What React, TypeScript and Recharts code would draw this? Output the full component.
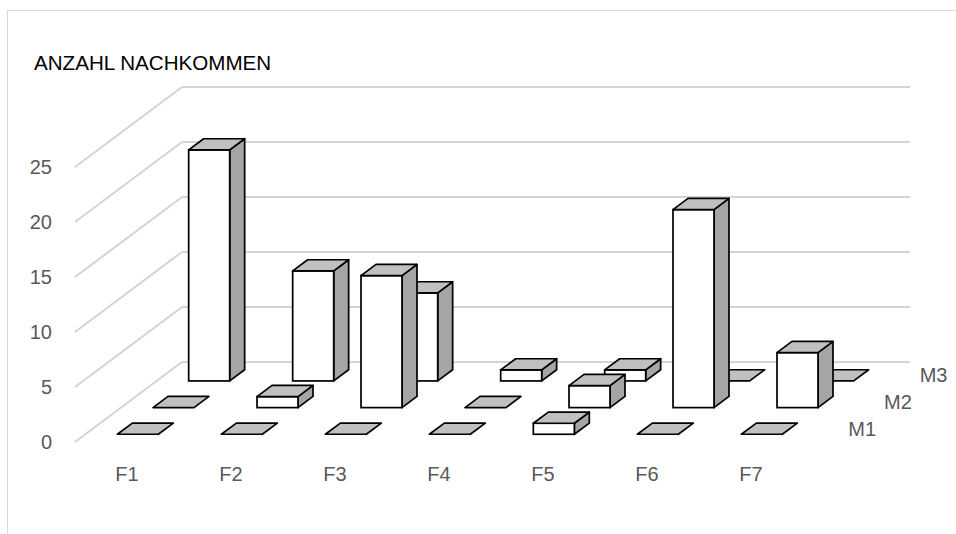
import React from 'react';
import { BarChart, Bar, XAxis, YAxis, CartesianGrid } from 'recharts';

const categories = ['F1', 'F2', 'F3', 'F4', 'F5', 'F6', 'F7'];
const seriesNames = ['M1', 'M2', 'M3'];
const m1Values = [0, 0, 0, 0, 1, 0, 0];
const m2Values = [0, 1, 12, 0, 2, 18, 5];
const m3Values = [21, 10, 8, 1, 1, 0, 0];
const yTicks = [0, 5, 10, 15, 20, 25];
const title = 'ANZAHL NACHKOMMEN';

const data = categories.map((c, i) => ({ name: c, M1: m1Values[i], M2: m2Values[i], M3: m3Values[i] }));

const CHART_W = 956;
const MARGIN_RIGHT = 153;
const Y_AXIS_W = 75;
const BAND = (CHART_W - MARGIN_RIGHT - Y_AXIS_W) / categories.length;
const DEPTH_X = 107;
const DEPTH_Y = -80;
const ROWS = 3;
const BAR_DEPTH = 0.14;
const FONT = '"Liberation Sans", Arial, sans-serif';
const TEXT_GRAY = '#595959';

function makeShape(row: number, name: string) {
  return (props: any) => {
    const { x, y, width, height, index } = props;
    const h = Math.max(0, height || 0);
    const dc = (row + 0.5) / ROWS;
    const df = dc - BAR_DEPTH / 2;
    const fx = x + df * DEPTH_X;
    const base = y + h + df * DEPTH_Y;
    const top = y + df * DEPTH_Y;
    const bx = BAR_DEPTH * DEPTH_X;
    const by = BAR_DEPTH * DEPTH_Y;
    const w = width;
    const topFace = `${fx},${top} ${fx + w},${top} ${fx + w + bx},${top + by} ${fx + bx},${top + by}`;
    const sideFace = `${fx + w},${top} ${fx + w + bx},${top + by} ${fx + w + bx},${base + by} ${fx + w},${base}`;
    let label = null;
    if (index === categories.length - 1) {
      const bandRight = x + w / 2 + BAND / 2;
      const lx = bandRight + 27 + dc * DEPTH_X;
      const ly = y + h + dc * DEPTH_Y;
      label = (
        <text x={lx} y={ly} fontSize={20} fontFamily={FONT} fill={TEXT_GRAY} dominantBaseline="central">
          {name}
        </text>
      );
    }
    return (
      <g>
        {h > 0 && (
          <>
            <polygon points={sideFace} fill="#a5a5a5" stroke="#000" strokeWidth={1.7} strokeLinejoin="round" />
            <rect x={fx} y={top} width={w} height={h} fill="#ffffff" stroke="#000" strokeWidth={1.7} />
          </>
        )}
        <polygon points={topFace} fill="#c0c0c0" stroke="#000" strokeWidth={1.7} strokeLinejoin="round" />
        {label}
      </g>
    );
  };
}

const gridLine = (props: any) => {
  const { x1, y1, x2, key } = props;
  return (
    <g key={key}>
      <line x1={x1} y1={y1} x2={x1 + DEPTH_X} y2={y1 + DEPTH_Y} stroke="#d4d4d4" strokeWidth={2} />
      <line x1={x1 + DEPTH_X} y1={y1 + DEPTH_Y} x2={x2 + DEPTH_X} y2={y1 + DEPTH_Y} stroke="#d4d4d4" strokeWidth={2} />
    </g>
  );
};

export default function App() {
  return (
    <div style={{ position: 'absolute', left: 0, top: 0, width: 956, height: 534, overflow: 'hidden', background: '#fff' }}>
      <div
        style={{
          position: 'absolute',
          left: 7,
          top: 10,
          width: 1000,
          height: 600,
          borderLeft: '1.5px solid #d9d9d9',
          borderTop: '1.5px solid #d9d9d9',
        }}
      />
      <div
        style={{
          position: 'absolute',
          left: 34,
          top: 53,
          fontFamily: FONT,
          fontSize: 20.6,
          lineHeight: '20px',
          color: '#000',
          whiteSpace: 'nowrap',
        }}
      >
        {title}
      </div>
      <div style={{ position: 'absolute', left: 0, top: 0 }}>
        <BarChart
          width={CHART_W}
          height={534}
          data={data}
          margin={{ top: 167, right: MARGIN_RIGHT, bottom: 52, left: 0 }}
          barSize={41}
          barGap={-41}
        >
          <CartesianGrid vertical={false} horizontal={gridLine} />
          <XAxis
            dataKey="name"
            axisLine={false}
            tickLine={false}
            height={40}
            tickMargin={19}
            tick={{ fill: TEXT_GRAY, fontSize: 20, fontFamily: FONT }}
          />
          <YAxis
            domain={[0, 25]}
            ticks={yTicks}
            axisLine={false}
            tickLine={false}
            width={Y_AXIS_W}
            tickMargin={17}
            tick={{ fill: TEXT_GRAY, fontSize: 20, fontFamily: FONT }}
          />
          <Bar dataKey="M3" isAnimationActive={false} shape={makeShape(2, seriesNames[2])} />
          <Bar dataKey="M2" isAnimationActive={false} shape={makeShape(1, seriesNames[1])} />
          <Bar dataKey="M1" isAnimationActive={false} shape={makeShape(0, seriesNames[0])} />
        </BarChart>
      </div>
    </div>
  );
}
